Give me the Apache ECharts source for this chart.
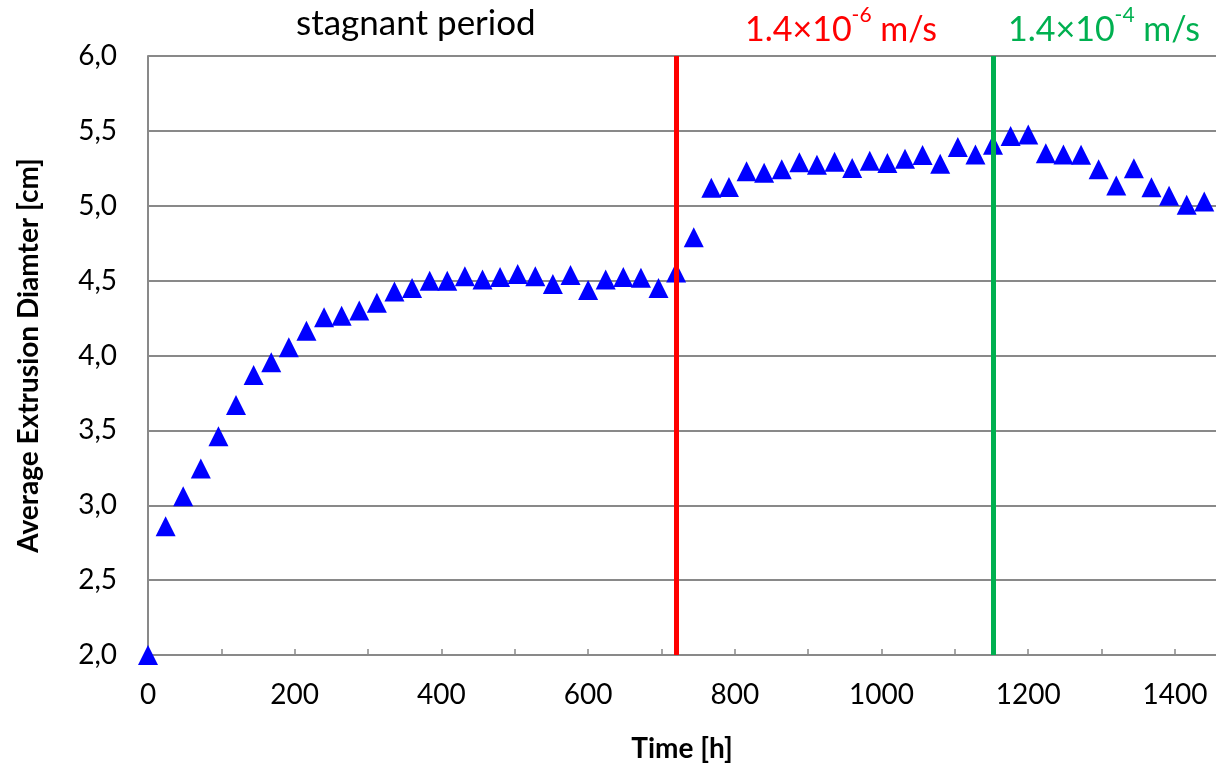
<!DOCTYPE html>
<html>
<head>
<meta charset="utf-8">
<script src="https://cdn.jsdelivr.net/npm/echarts@6/dist/echarts.min.js"></script>
<style>
  html, body { margin: 0; padding: 0; background: #fff; }
  #chart { width: 1216px; height: 772px; }
</style>
</head>
<body>
<div id="chart"></div>
<script>
// measurement times [h]
const times = [0, 24, 48, 72, 96, 120, 144, 168, 192, 216, 240, 264, 288, 312, 336, 360, 384, 408, 432, 456,
  480, 504, 528, 552, 576, 600, 624, 648, 672, 696, 720, 744, 768, 792, 816, 840, 864, 888, 912, 936,
  960, 984, 1008, 1032, 1056, 1080, 1104, 1128, 1152, 1176, 1200, 1224, 1248, 1272, 1296, 1320, 1344, 1368, 1392, 1416, 1440];
// average extrusion diameter [cm]
const diameter = [2.0, 2.86, 3.06, 3.245, 3.46, 3.67, 3.87, 3.955, 4.055, 4.166, 4.255, 4.266, 4.30, 4.353, 4.427, 4.45, 4.50, 4.50, 4.53, 4.507,
  4.525, 4.545, 4.53, 4.478, 4.538, 4.438, 4.507, 4.525, 4.52, 4.45, 4.555, 4.79, 5.12, 5.125, 5.23, 5.22, 5.243, 5.29, 5.274, 5.294,
  5.252, 5.30, 5.286, 5.314, 5.339, 5.28, 5.393, 5.342, 5.408, 5.466, 5.475, 5.35, 5.343, 5.341, 5.243, 5.136, 5.25, 5.123, 5.067, 5.007, 5.029];
// flow velocity changes [h]
const flowChanges = [720, 1152];
const flowColors = ["#ff0000", "#00b050"];

const FONT = "Lato";
const chart = echarts.init(document.getElementById("chart"));

function velocityLabel(left, exp, color) {
  return {
    type: "text", left: left, top: 5,
    style: {
      text: "{b|1.4×10}{s|" + exp + "}{b| m/s}",
      fill: color,
      rich: {
        b: { fontSize: 34, fill: color, fontFamily: FONT, verticalAlign: "bottom", lineHeight: 42 },
        s: { fontSize: 21, fill: color, fontFamily: FONT, verticalAlign: "top", lineHeight: 42 }
      }
    }
  };
}

const option = {
  animation: false,
  textStyle: { fontFamily: FONT },
  grid: { left: 148, top: 56, right: 0, bottom: 117, containLabel: false },
  xAxis: {
    type: "value",
    min: 0,
    max: 1456,
    interval: 100,
    name: "Time [h]",
    nameLocation: "middle",
    nameGap: 80,
    nameTextStyle: { fontSize: 28, fontWeight: "bold", color: "#000", fontFamily: FONT },
    axisLine: { lineStyle: { color: "#898989", width: 2 } },
    axisTick: { inside: true, length: 6, lineStyle: { color: "#898989", width: 1.5 } },
    splitLine: { show: false },
    axisLabel: {
      fontSize: 28, color: "#000", margin: 26, showMaxLabel: false,
      formatter: (v) => (v % 200 === 0 ? String(v) : "")
    }
  },
  yAxis: {
    type: "value",
    min: 2,
    max: 6,
    interval: 0.5,
    name: "Average Extrusion Diamter [cm]",
    nameLocation: "middle",
    nameGap: 105,
    nameTextStyle: { fontSize: 28, fontWeight: "bold", color: "#000", fontFamily: FONT },
    axisLine: { show: true, lineStyle: { color: "#898989", width: 2 } },
    axisTick: { show: true, inside: true, length: 8, lineStyle: { color: "#898989", width: 1.5 } },
    splitLine: { show: true, lineStyle: { color: "#898989", width: 2 } },
    axisLabel: {
      fontSize: 28, color: "#000", margin: 31,
      formatter: (v) => v.toFixed(1).replace(".", ",")
    }
  },
  series: [{
    type: "scatter",
    data: times.map((t, i) => [t, diameter[i]]),
    symbol: "triangle",
    symbolSize: [20, 20],
    itemStyle: { color: "#0000ff", opacity: 1 },
    z: 3,
    markLine: {
      silent: true,
      symbol: "none",
      label: { show: false },
      data: flowChanges.map((x, i) => ({
        xAxis: x,
        lineStyle: { color: flowColors[i], width: 5, type: "solid" }
      }))
    }
  }],
  graphic: [
    {
      type: "text", left: 296, top: 6,
      style: { text: "stagnant period", fontSize: 35, fill: "#000", fontFamily: FONT }
    },
    velocityLabel(745, "-6", flowColors[0]),
    velocityLabel(1008, "-4", flowColors[1])
  ]
};

chart.setOption(option);
</script>
</body>
</html>
